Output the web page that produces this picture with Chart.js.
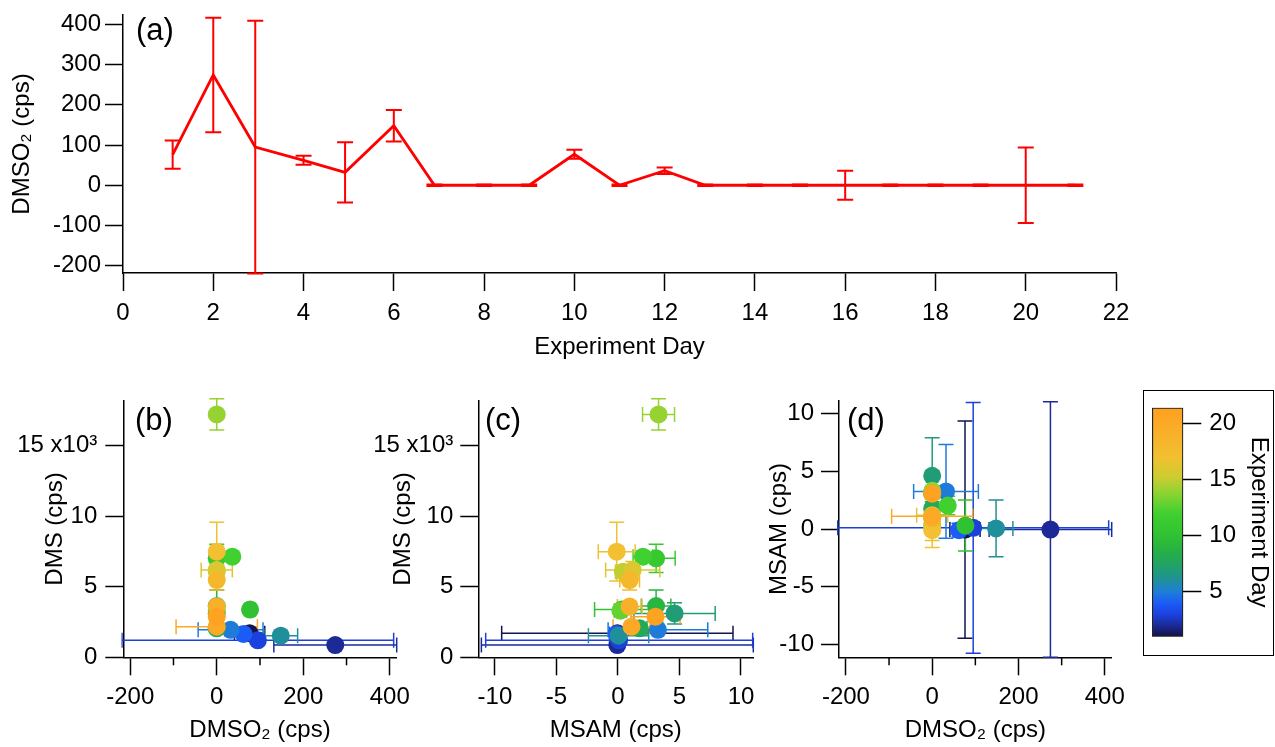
<!DOCTYPE html>
<html>
<head>
<meta charset="utf-8">
<script src="https://cdn.jsdelivr.net/npm/chart.js@4.4.1/dist/chart.umd.min.js"></script>
<style>
  body { margin: 0; background: #fff; width: 1275px; height: 747px; overflow: hidden; position: relative; font-family: 'Liberation Sans', Arial, sans-serif; }
  canvas { position: absolute; }
  .tag { position: absolute; font-size: 31px; line-height: 31px; color: #000; }
  #cbox { position: absolute; left: 1143px; top: 390px; width: 131px; height: 266px; border: 1.5px solid #000; box-sizing: border-box; }
</style>
</head>
<body>
<canvas id="chartA" width="1140" height="370" style="left:0;top:0"></canvas>
<canvas id="chartB" width="420" height="367" style="left:0;top:380px"></canvas>
<canvas id="chartC" width="420" height="367" style="left:360px;top:380px"></canvas>
<canvas id="chartD" width="380" height="367" style="left:760px;top:380px"></canvas>
<div id="cbox"></div>
<canvas id="chartBar" width="129" height="262" style="left:1144px;top:392px"></canvas>
<div class="tag" style="left:136px;top:14px">(a)</div>
<div class="tag" style="left:135px;top:404px">(b)</div>
<div class="tag" style="left:485px;top:404px">(c)</div>
<div class="tag" style="left:847px;top:404px">(d)</div>
<script>
// ===== データ =====
const days = [1.1, 2, 2.93, 4, 4.92, 6, 6.9, 8, 9, 10, 11, 12, 12.9, 14, 15, 16, 17, 18, 19, 20, 21.1];
const dmso2 = [76, 274, 95, 62, 32, 148, 0, 0, 0, 77, 0, 36, 0, 0, 0, 0, 0, 0, 0, 0, 0];
const dmso2Err = [35, 142, 314, 11, 75, 39, 2, 2, 2, 11, 2, 8, 2, 2, 2, 36, 2, 2, 2, 94, 2];
const dms = [1700, 870, 1200, 1650, 1950, 1530, 3110, 2050, 3630, 3380, 7010, 7125, 3300, 17200, 6060, 6180, 7480, 5470, 3590, 2170, 2880];
const dmsErr = [120, 90, 100, 120, 150, 120, 760, 200, 1140, 250, 1000, 300, 250, 1100, 450, 600, 2080, 700, 350, 180, 250];
const msam = [-0.05, -0.05, 0.1, -0.1, 3.25, 0.05, 4.6, 1.76, 3.1, 0.3, 3.1, 2.03, 0.2, 3.3, 0.4, 1.2, -0.1, 0.95, 0.95, 1.1, 3.05];
const msamErr = [9.4, 11.05, 10.85, 0.6, 4.05, 2.45, 3.3, 0.6, 1.2, 2.2, 1.55, 0.8, 0.5, 1.3, 0.6, 2.2, 1.5, 0.8, 1.0, 1.5, 2.0];

// 目盛り
const dayTicks = [0, 2, 4, 6, 8, 10, 12, 14, 16, 18, 20, 22];
const dmso2Ticks = [-200, -100, 0, 100, 200, 300, 400];
const dmso2ScatterTicks = [-200, 0, 200, 400];
const dmso2MinorTicks = [-100, 100, 300];
const dmsTicks = [0, 5000, 10000, 15000];
const msamXTicks = [-10, -5, 0, 5, 10];
const msamYTicks = [-10, -5, 0, 5, 10];
const colorbarTicks = [5, 10, 15, 20];
const colorbarRange = [1.0, 21.4];

// カラーマップ (Experiment Day)
const cmapStops = [
  [1.0, '#121245'], [2.0, '#1b2a96'], [3.0, '#1b42e0'], [4.0, '#1c5cf6'], [5.0, '#1e7ed8'],
  [6.0, '#208f9c'], [7.0, '#209e72'], [8.5, '#26ae48'], [10.0, '#30c232'], [12.0, '#40d030'],
  [13.7, '#88d432'], [15.2, '#cccc30'], [17.0, '#f2c030'], [19.0, '#f8b02a'], [21.4, '#ffa020']
];

function hexRgb(h) {
  return [parseInt(h.slice(1, 3), 16), parseInt(h.slice(3, 5), 16), parseInt(h.slice(5, 7), 16)];
}

function dayColor(d) {
  if (d <= cmapStops[0][0]) return cmapStops[0][1];
  for (let i = 1; i < cmapStops.length; i++) {
    if (d <= cmapStops[i][0]) {
      const [d0, c0] = cmapStops[i - 1];
      const [d1, c1] = cmapStops[i];
      const t = (d - d0) / (d1 - d0);
      const a = hexRgb(c0), b = hexRgb(c1);
      const rgb = a.map((v, k) => Math.round(v + (b[k] - v) * t));
      return `rgb(${rgb[0]},${rgb[1]},${rgb[2]})`;
    }
  }
  return cmapStops[cmapStops.length - 1][1];
}

const dayColors = days.map(dayColor);

Chart.defaults.font.family = "'Liberation Sans', Arial, sans-serif";
Chart.defaults.color = '#000';

// ===== エラーバー描画プラグイン =====
const errorBars = {
  id: 'errorBars',
  beforeDatasetsDraw(chart, args, opts) {
    const { ctx, chartArea: a, scales: { x, y } } = chart;
    ctx.save();
    ctx.beginPath();
    ctx.rect(a.left - 2, a.top - 3, a.right - a.left + 4, a.bottom - a.top + 6);
    ctx.clip();
    ctx.lineWidth = opts.width || 1.5;
    const cap = opts.cap || 7;
    chart.data.datasets.forEach(ds => {
      if (!ds.errX && !ds.errY) return;
      ds.data.forEach((p, i) => {
        ctx.strokeStyle = Array.isArray(ds.errColor) ? ds.errColor[i] : ds.errColor;
        const px = x.getPixelForValue(p.x);
        const py = y.getPixelForValue(p.y);
        ctx.beginPath();
        if (ds.errY) {
          const y1 = y.getPixelForValue(p.y - ds.errY[i]);
          const y2 = y.getPixelForValue(p.y + ds.errY[i]);
          ctx.moveTo(px, y1); ctx.lineTo(px, y2);
          ctx.moveTo(px - cap, y1); ctx.lineTo(px + cap, y1);
          ctx.moveTo(px - cap, y2); ctx.lineTo(px + cap, y2);
        }
        if (ds.errX) {
          const x1 = x.getPixelForValue(p.x - ds.errX[i]);
          const x2 = x.getPixelForValue(p.x + ds.errX[i]);
          ctx.moveTo(x1, py); ctx.lineTo(x2, py);
          ctx.moveTo(x1, py - cap); ctx.lineTo(x1, py + cap);
          ctx.moveTo(x2, py - cap); ctx.lineTo(x2, py + cap);
        }
        ctx.stroke();
      });
    });
    ctx.restore();
  }
};

// ===== 副目盛り =====
const minorTicks = {
  id: 'minorTicks',
  afterDraw(chart, args, opts) {
    if (!opts.values) return;
    const { ctx, scales: { x } } = chart;
    ctx.save();
    ctx.strokeStyle = '#000';
    ctx.lineWidth = 1.5;
    opts.values.forEach(v => {
      const px = x.getPixelForValue(v);
      ctx.beginPath();
      ctx.moveTo(px, x.top);
      ctx.lineTo(px, x.top + opts.length);
      ctx.stroke();
    });
    ctx.restore();
  }
};

// ===== 軸設定 =====
function axis(o) {
  return {
    type: 'linear',
    position: o.position,
    min: o.min,
    max: o.max,
    afterBuildTicks: s => { s.ticks = o.ticks.map(v => ({ value: v })); },
    afterFit: s => {
      if (s.isHorizontal()) s.height = o.size; else s.width = o.size;
      s.paddingTop = 0; s.paddingBottom = 0; s.paddingLeft = 0; s.paddingRight = 0;
    },
    grid: { drawOnChartArea: false, drawTicks: true, tickLength: 18, tickWidth: 1.5, tickColor: '#000' },
    border: { display: o.border !== false, color: '#000', width: 1.5 },
    ticks: { color: '#000', font: { size: 24 }, padding: o.pad, maxRotation: 0, autoSkip: false, callback: o.fmt || (v => v) },
    title: { display: !!o.title, text: o.title, color: '#000', font: { size: 24 }, padding: { top: o.titlePad, bottom: o.titlePad } }
  };
}

const dmsFmt = v => v === 15000 ? '15 x10³' : String(v / 1000);

function baseOptions(pad) {
  return {
    responsive: false,
    devicePixelRatio: 1,
    animation: false,
    events: [],
    layout: { padding: pad },
    plugins: { legend: { display: false }, tooltip: { enabled: false } }
  };
}

function points(xs, ys) {
  return xs.map((v, i) => ({ x: v, y: ys[i] }));
}

// ===== (a) DMSO2 時系列 =====
const optA = baseOptions({ left: 0, top: 15, right: 24, bottom: 0 });
optA.scales = {
  x: axis({ position: 'bottom', min: 0, max: 22, ticks: dayTicks, size: 97, pad: 8, title: 'Experiment Day', titlePad: 8 }),
  y: axis({ position: 'left', min: -218, max: 423, ticks: dmso2Ticks, size: 123, pad: 4, title: 'DMSO₂ (cps)', titlePad: 8 })
};
optA.plugins.errorBars = { width: 2, cap: 8 };
new Chart(document.getElementById('chartA'), {
  type: 'line',
  data: {
    datasets: [{
      data: points(days, dmso2),
      errY: dmso2Err,
      errColor: '#ff0000',
      borderColor: '#ff0000',
      borderWidth: 2.8,
      pointRadius: 0,
      tension: 0
    }]
  },
  options: optA,
  plugins: [errorBars]
});

// ===== 散布図 =====
function scatterChart(id, xs, ys, ex, ey, xAxis, yAxis, pad, minor) {
  const opt = baseOptions(pad);
  opt.scales = { x: xAxis, y: yAxis };
  opt.plugins.errorBars = { width: 1.5, cap: 7.5 };
  opt.plugins.minorTicks = minor ? { values: minor, length: 8 } : {};
  return new Chart(document.getElementById(id), {
    type: 'scatter',
    data: {
      datasets: [{
        data: points(xs, ys),
        errX: ex,
        errY: ey,
        errColor: dayColors,
        backgroundColor: dayColors,
        borderColor: dayColors,
        borderWidth: 0,
        pointRadius: 9
      }]
    },
    options: opt,
    plugins: [errorBars, minorTicks]
  });
}

// (b) DMS vs DMSO2
scatterChart('chartB', dmso2, dms, dmso2Err, dmsErr,
  axis({ position: 'bottom', min: -216, max: 416, ticks: dmso2ScatterTicks, size: 89.7, pad: 8, title: 'DMSO₂ (cps)', titlePad: 2 }),
  axis({ position: 'left', min: 0, max: 18170, ticks: dmsTicks, size: 123.3, pad: 8, fmt: dmsFmt, title: 'DMS (cps)', titlePad: 40.6 }),
  { left: 0, top: 20.7, right: 23.3, bottom: 0 }, dmso2MinorTicks);

// (c) DMS vs MSAM
scatterChart('chartC', msam, dms, msamErr, dmsErr,
  axis({ position: 'bottom', min: -11.35, max: 11.0, ticks: msamXTicks, size: 89.7, pad: 8, title: 'MSAM (cps)', titlePad: 2 }),
  axis({ position: 'left', min: 0, max: 18170, ticks: dmsTicks, size: 118.3, pad: 7, fmt: dmsFmt, title: 'DMS (cps)', titlePad: 28.6 }),
  { left: 0, top: 20.7, right: 26.7, bottom: 0 }, null);

// (d) MSAM vs DMSO2
scatterChart('chartD', dmso2, msam, dmso2Err, msamErr,
  axis({ position: 'bottom', min: -216, max: 416, ticks: dmso2ScatterTicks, size: 89.7, pad: 8, title: 'DMSO₂ (cps)', titlePad: 2 }),
  axis({ position: 'left', min: -11.1, max: 11.1, ticks: msamYTicks, size: 79, pad: 7, title: 'MSAM (cps)', titlePad: 4.6 }),
  { left: 0, top: 20.7, right: 28.3, bottom: 0 }, dmso2MinorTicks);

// ===== カラーバー =====
const optBar = baseOptions({ left: 8, top: 15.7, right: 0, bottom: 17.3 });
optBar.scales = {
  x: { type: 'category', display: false },
  y: axis({ position: 'right', min: colorbarRange[0], max: colorbarRange[1], ticks: colorbarTicks, size: 89.7, pad: 8, title: 'Experiment Day', titlePad: 0, border: false })
};
new Chart(document.getElementById('chartBar'), {
  type: 'bar',
  data: {
    labels: [''],
    datasets: [{
      data: [colorbarRange],
      backgroundColor: ctx => {
        const { chart } = ctx;
        const area = chart.chartArea;
        if (!area) return '#888';
        const ys = chart.scales.y;
        const g = chart.ctx.createLinearGradient(0, ys.getPixelForValue(colorbarRange[0]), 0, ys.getPixelForValue(colorbarRange[1]));
        const span = colorbarRange[1] - colorbarRange[0];
        cmapStops.forEach(([d, c]) => {
          g.addColorStop(Math.min(1, Math.max(0, (d - colorbarRange[0]) / span)), c);
        });
        return g;
      },
      borderColor: '#222',
      borderWidth: 1.5,
      borderSkipped: false,
      categoryPercentage: 1,
      barPercentage: 1
    }]
  },
  options: optBar
});
</script>
</body>
</html>
